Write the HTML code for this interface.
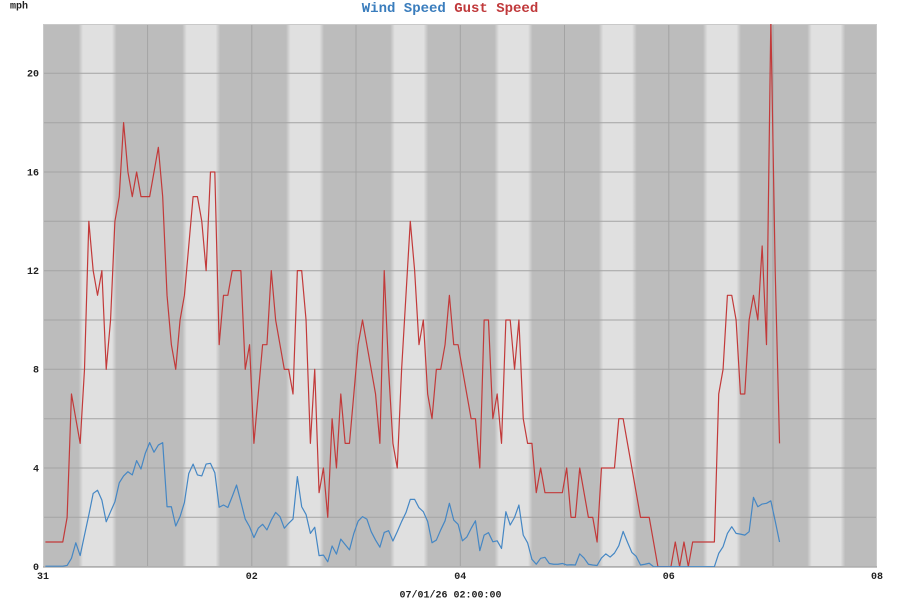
<!DOCTYPE html>
<html><head><meta charset="utf-8"><style>
html,body{margin:0;padding:0;background:#fff;}
svg{display:block;}
text{font-family:"Liberation Mono",monospace;font-weight:bold;}
</style></head><body>
<svg width="900" height="600" viewBox="0 0 900 600" xmlns="http://www.w3.org/2000/svg">
<defs>
<linearGradient id="band" x1="0" y1="0" x2="1" y2="0">
<stop offset="0" stop-color="#bcbcbc"/>
<stop offset="0.12" stop-color="#e0e0e0"/>
<stop offset="0.88" stop-color="#e0e0e0"/>
<stop offset="1" stop-color="#bcbcbc"/>
</linearGradient>
<clipPath id="plot"><rect x="43" y="24" width="834" height="543"/></clipPath>
</defs>
<rect x="43" y="24" width="834" height="543" fill="#bcbcbc"/>
<g fill="url(#band)">
<rect x="78.5" y="24" width="38" height="543"/>
<rect x="182.2" y="24" width="38" height="543"/>
<rect x="286" y="24" width="38" height="543"/>
<rect x="390.2" y="24" width="38" height="543"/>
<rect x="494.5" y="24" width="38" height="543"/>
<rect x="598.7" y="24" width="38" height="543"/>
<rect x="703" y="24" width="38" height="543"/>
<rect x="807.2" y="24" width="38" height="543"/>
</g>
<g stroke="#a3a3a3" stroke-width="1" fill="none">
<line x1="43" y1="73.3" x2="877" y2="73.3"/>
<line x1="43" y1="122.7" x2="877" y2="122.7"/>
<line x1="43" y1="172" x2="877" y2="172"/>
<line x1="43" y1="221.3" x2="877" y2="221.3"/>
<line x1="43" y1="270.7" x2="877" y2="270.7"/>
<line x1="43" y1="320" x2="877" y2="320"/>
<line x1="43" y1="369.3" x2="877" y2="369.3"/>
<line x1="43" y1="418.7" x2="877" y2="418.7"/>
<line x1="43" y1="468" x2="877" y2="468"/>
<line x1="43" y1="517.3" x2="877" y2="517.3"/>
<line x1="95.1" y1="24" x2="95.1" y2="567" stroke="none"/>
<line x1="147.6" y1="24" x2="147.6" y2="567"/>
<line x1="251.8" y1="24" x2="251.8" y2="567"/>
<line x1="356" y1="24" x2="356" y2="567"/>
<line x1="460.3" y1="24" x2="460.3" y2="567"/>
<line x1="564.5" y1="24" x2="564.5" y2="567"/>
<line x1="668.8" y1="24" x2="668.8" y2="567"/>
<line x1="773" y1="24" x2="773" y2="567"/>
</g>
<rect x="43.5" y="24.5" width="833" height="542" fill="none" stroke="#c9c9c9" stroke-width="1"/>
<line x1="43" y1="567" x2="877" y2="567" stroke="#a0a0a0" stroke-width="1.2"/>
<g clip-path="url(#plot)">
<g transform="translate(45.4,566.7) scale(4.344,-24.67)" fill="none" stroke-linejoin="round">
<polyline vector-effect="non-scaling-stroke" stroke="#c23a3a" stroke-width="1.2" points="0,1 1,1 2,1 3,1 4,1 5,2 6,7 7,6 8,5 9,8 10,14 11,12 12,11 13,12 14,8 15,10 16,14 17,15 18,18 19,16 20,15 21,16 22,15 23,15 24,15 25,16 26,17 27,15 28,11 29,9 30,8 31,10 32,11 33,13 34,15 35,15 36,14 37,12 38,16 39,16 40,9 41,11 42,11 43,12 44,12 45,12 46,8 47,9 48,5 49,7 50,9 51,9 52,12 53,10 54,9 55,8 56,8 57,7 58,12 59,12 60,10 61,5 62,8 63,3 64,4 65,2 66,6 67,4 68,7 69,5 70,5 71,7 72,9 73,10 74,9 75,8 76,7 77,5 78,12 79,8 80,5 81,4 82,8 83,11 84,14 85,12 86,9 87,10 88,7 89,6 90,8 91,8 92,9 93,11 94,9 95,9 96,8 97,7 98,6 99,6 100,4 101,10 102,10 103,6 104,7 105,5 106,10 107,10 108,8 109,10 110,6 111,5 112,5 113,3 114,4 115,3 116,3 117,3 118,3 119,3 120,4 121,2 122,2 123,4 124,3 125,2 126,2 127,1 128,4 129,4 130,4 131,4 132,6 133,6 134,5 135,4 136,3 137,2 138,2 139,2 140,1 141,0 142,0 143,0 144,0 145,1 146,0 147,1 148,0 149,1 150,1 151,1 152,1 153,1 154,1 155,7 156,8 157,11 158,11 159,10 160,7 161,7 162,10 163,11 164,10 165,13 166,9 167,22.2 168,12 169,5"/>
<polyline vector-effect="non-scaling-stroke" stroke="#4587c4" stroke-width="1.2" points="0,0.02 1,0.02 2,0.02 3,0.02 4,0.02 5,0.05 6,0.34 7,0.97 8,0.45 9,1.28 10,2.1 11,2.97 12,3.1 13,2.7 14,1.82 15,2.23 16,2.63 17,3.4 18,3.68 19,3.85 20,3.72 21,4.3 22,3.96 23,4.6 24,5.03 25,4.64 26,4.93 27,5.03 28,2.43 29,2.43 30,1.65 31,2.03 32,2.6 33,3.78 34,4.16 35,3.72 36,3.68 37,4.16 38,4.19 39,3.81 40,2.41 41,2.5 42,2.4 43,2.84 44,3.31 45,2.63 46,1.93 47,1.62 48,1.18 49,1.56 50,1.72 51,1.49 52,1.89 53,2.2 54,2.03 55,1.56 56,1.76 57,1.93 58,3.65 59,2.43 60,2.12 61,1.35 62,1.6 63,0.45 64,0.47 65,0.2 66,0.84 67,0.51 68,1.12 69,0.9 70,0.68 71,1.35 72,1.85 73,2.03 74,1.93 75,1.42 76,1.08 77,0.79 78,1.39 79,1.46 80,1.04 81,1.42 82,1.83 83,2.19 84,2.73 85,2.73 86,2.39 87,2.23 88,1.83 89,0.97 90,1.08 91,1.49 92,1.86 93,2.57 94,1.89 95,1.72 96,1.05 97,1.2 98,1.55 99,1.86 100,0.65 101,1.28 102,1.38 103,1.01 104,1.05 105,0.74 106,2.23 107,1.69 108,2.0 109,2.5 110,1.28 111,0.97 112,0.3 113,0.1 114,0.34 115,0.38 116,0.13 117,0.1 118,0.1 119,0.13 120,0.07 121,0.08 122,0.07 123,0.52 124,0.35 125,0.1 126,0.07 127,0.05 128,0.35 129,0.52 130,0.39 131,0.55 132,0.85 133,1.43 134,0.99 135,0.58 136,0.42 137,0.07 138,0.1 139,0.14 140,0 141,0 142,0 143,0 144,0 145,0 146,0 147,0 148,0 149,0 150,0 151,0 152,0 153,0 154,0 155,0.54 156,0.81 157,1.35 158,1.62 159,1.35 160,1.32 161,1.28 162,1.42 163,2.81 164,2.43 165,2.54 166,2.57 167,2.67 168,1.85 169,1.0"/>
</g>
</g>
<text x="450" y="12" font-size="14" text-anchor="middle"><tspan fill="#3a7dbd">Wind Speed</tspan> <tspan fill="#c0393b">Gust Speed</tspan></text>
<text x="10" y="8.5" font-size="10" fill="#222">mph</text>
<g font-size="10" fill="#222" text-anchor="end">
<text x="39" y="76.5">20</text>
<text x="39" y="175.5">16</text>
<text x="39" y="274">12</text>
<text x="39" y="372.5">8</text>
<text x="39" y="471.5">4</text>
<text x="39" y="570">0</text>
</g>
<g font-size="10" fill="#222" text-anchor="middle">
<text x="43" y="579">31</text>
<text x="251.8" y="579">02</text>
<text x="460.3" y="579">04</text>
<text x="668.8" y="579">06</text>
<text x="877" y="579">08</text>
<text x="450.5" y="597.5">07/01/26 02:00:00</text>
</g>
</svg>
</body></html>
